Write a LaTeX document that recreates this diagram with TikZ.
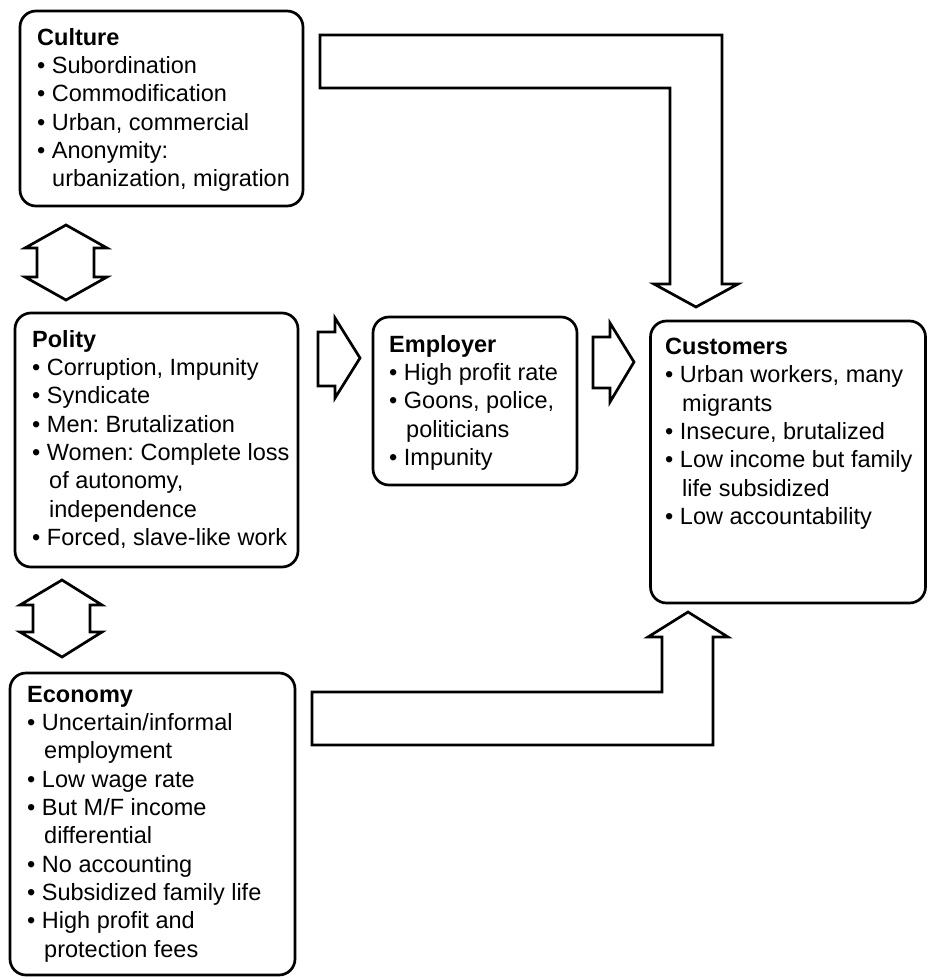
\documentclass[tikz,border=0pt]{standalone}
\usepackage{fontspec}
\setmainfont{Liberation Sans}
\frenchspacing
\begin{document}
\begin{tikzpicture}[x=1pt,y=-1pt,
  box/.style={draw, line width=2.7pt, rounded corners=16pt, inner sep=0pt},
  txt/.style={anchor=north west, inner sep=0pt, align=left, font=\fontsize{23.5}{28.3}\selectfont},
  blockarrow/.style={draw, line width=2.7pt, line join=miter, fill=white}]
\useasboundingbox (0,0) rectangle (928,979);

% boxes
\node[box, minimum width=283pt, minimum height=195pt] (culture) at (161.5,108.5) {};
\node[box, minimum width=283pt, minimum height=254pt] (polity) at (156.5,440) {};
\node[box, minimum width=285pt, minimum height=302pt] (economy) at (152.5,824) {};
\node[box, minimum width=204pt, minimum height=168pt] (employer) at (475,401) {};
\node[box, minimum width=275pt, minimum height=282pt] (customers) at (788,462) {};

% texts
\node[txt] (culturetxt) at (37,28) {\textbf{Culture}\\
• Subordination\\
• Commodification\\
• Urban, commercial\\
• Anonymity:\\
\hspace*{15pt}urbanization, migration};

\node[txt] (politytxt) at (32,330) {\textbf{Polity}\\
• Corruption, Impunity\\
• Syndicate\\
• Men: Brutalization\\
• Women: Complete loss\\
\hspace*{17pt}of autonomy,\\
\hspace*{17pt}independence\\
• Forced, slave-like work};

\node[txt] (employertxt) at (389,335) {\textbf{Employer}\\
• High profit rate\\
• Goons, police,\\
\hspace*{17pt}politicians\\
• Impunity};

\node[txt] (customerstxt) at (665,338) {\textbf{Customers}\\
• Urban workers, many\\
\hspace*{17pt}migrants\\
• Insecure, brutalized\\
• Low income but family\\
\hspace*{17pt}life subsidized\\
• Low accountability};

\node[txt] (economytxt) at (27,686) {\textbf{Economy}\\
• Uncertain/informal\\
\hspace*{17pt}employment\\
• Low wage rate\\
• But M/F income\\
\hspace*{17pt}differential\\
• No accounting\\
• Subsidized family life\\
• High profit and\\
\hspace*{17pt}protection fees};

% double arrows between left boxes
\draw[blockarrow] (66,225) -- (107,248) -- (94,248) -- (94,277) -- (107,277) -- (66,300)
  -- (25,277) -- (37,277) -- (37,248) -- (25,248) -- cycle;
\draw[blockarrow] (62,580) -- (102,605) -- (90,605) -- (90,632) -- (102,632) -- (62,657)
  -- (20,632) -- (33,632) -- (33,605) -- (20,605) -- cycle;

% right arrows
\draw[blockarrow] (318,332) -- (335,332) -- (335,318) -- (360,358) -- (335,398) -- (335,386)
  -- (318,386) -- cycle;
\draw[blockarrow] (593,337) -- (610,337) -- (610,323) -- (634,362) -- (610,402) -- (610,388)
  -- (593,388) -- cycle;

% L-shaped arrow from culture to customers
\draw[blockarrow] (320,35) -- (722,35) -- (722,284) -- (738,284) -- (696,307) -- (654,284)
  -- (670,284) -- (670,88) -- (320,88) -- cycle;

% L-shaped arrow from economy to customers
\draw[blockarrow] (312,692) -- (662,692) -- (662,637) -- (648,637) -- (688,612) -- (728,637)
  -- (713,637) -- (713,745) -- (312,745) -- cycle;
\end{tikzpicture}
\end{document}
